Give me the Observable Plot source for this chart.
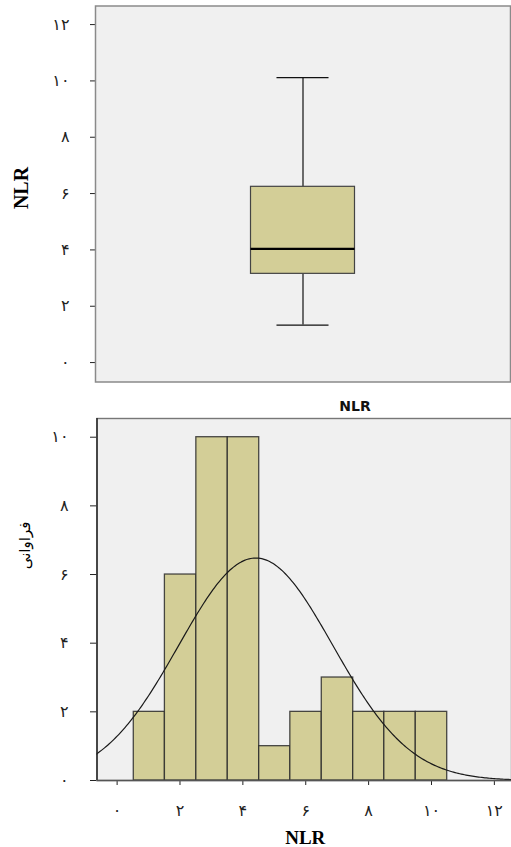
<!DOCTYPE html>
<html><head><meta charset="utf-8">
<script src="https://cdn.jsdelivr.net/npm/d3@7"></script>
<script src="https://cdn.jsdelivr.net/npm/@observablehq/plot@0.6"></script>
<style>
body{margin:0;background:#fff;width:511px;height:847px;position:relative;overflow:hidden;}
#top{position:absolute;left:0;top:0;}
#title{position:absolute;left:0;top:398px;width:710px;text-align:center;font:bold 14px "DejaVu Sans",sans-serif;color:#111;}
#bottom{position:absolute;left:0;top:390px;}
svg{display:block;}
</style></head><body>
<div id="top"></div><div id="title"></div><div id="bottom"></div>
<script>
// ---- data ----
const boxVariable = "NLR";
const boxMin = 1.33, boxQ1 = 3.15, boxMedian = 4.04, boxQ3 = 6.24, boxMax = 10.12;
const yTicksTop = [0, 2, 4, 6, 8, 10, 12];
const yTickLabelsTop = ["۰", "۲", "۴", "۶", "۸", "۱۰", "۱۲"];

const histTitle = "NLR";
const histXLabel = "NLR";
const histYLabel = "فراوانی";
const binEdges = [0.53, 1.52, 2.52, 3.52, 4.52, 5.51, 6.51, 7.51, 8.50, 9.50, 10.50];
const binCounts = [2, 6, 10, 10, 1, 2, 3, 2, 2, 2];
const yTicksHist = [0, 2, 4, 6, 8, 10];
const yTickLabelsHist = ["۰", "۲", "۴", "۶", "۸", "۱۰"];
const xTicksHist = [0, 2, 4, 6, 8, 10, 12];
const xTickLabelsHist = ["۰", "۲", "۴", "۶", "۸", "۱۰", "۱۲"];
const normalMean = 4.41, normalSD = 2.455, sampleN = 40;

// ---- styles ----
const fill = "#d3ce97";
const tickFont = "'DejaVu Sans',serif";

// ---- top: box plot ----
const boxRow = [{min: boxMin, q1: boxQ1, median: boxMedian, q3: boxQ3, max: boxMax}];
const topPlot = Plot.plot({
  width: 511, height: 390,
  marginTop: 5.5, marginBottom: 8.5, marginLeft: 95, marginRight: 1,
  style: {fontFamily: tickFont, fontSize: "16px", color: "#222", background: "transparent"},
  x: {domain: [0, 1], axis: null},
  y: {domain: [-0.69, 12.66], ticks: yTicksTop, tickFormat: d => yTickLabelsTop[yTicksTop.indexOf(d)],
      tickSize: 5, tickPadding: 21, label: null},
  marks: [
    Plot.frame({fill: "#f0f0f0", stroke: "#8a8a8a", strokeWidth: 1.5}),
    Plot.ruleX(boxRow, {x: () => 0.5, y1: "max", y2: "q3", stroke: "#111", strokeWidth: 1.2}),
    Plot.ruleX(boxRow, {x: () => 0.5, y1: "q1", y2: "min", stroke: "#111", strokeWidth: 1.2}),
    Plot.ruleY(boxRow, {y: "max", x1: () => 0.4373, x2: () => 0.5627, stroke: "#111", strokeWidth: 1.2}),
    Plot.ruleY(boxRow, {y: "min", x1: () => 0.4373, x2: () => 0.5627, stroke: "#111", strokeWidth: 1.2}),
    Plot.rect(boxRow, {x1: () => 0.3747, x2: () => 0.6253, y1: "q1", y2: "q3", fill, stroke: "#444", strokeWidth: 1.2}),
    Plot.ruleY(boxRow, {y: "median", x1: () => 0.3747, x2: () => 0.6253, stroke: "#000", strokeWidth: 2.2}),
    Plot.text([boxVariable], {frameAnchor: "left", dx: -74, dy: -6, rotate: -90, text: d => d,
      fontFamily: "'Liberation Serif',serif", fontWeight: "bold", fontSize: 20, fill: "#000",
      textAnchor: "middle", lineAnchor: "middle"})
  ]
});
document.getElementById("top").append(topPlot);

// ---- bottom: histogram with normal curve ----
document.getElementById("title").textContent = histTitle;
const bins = binCounts.map((c, i) => ({x1: binEdges[i], x2: binEdges[i + 1], count: c}));
const binWidth = (binEdges[binEdges.length - 1] - binEdges[0]) / binCounts.length;
const peak = sampleN * binWidth / (normalSD * Math.sqrt(2 * Math.PI));
const curve = d3.range(-1, 13.6, 0.05).map(x => ({x, y: peak * Math.exp(-0.5 * ((x - normalMean) / normalSD) ** 2)}));

const bottomPlot = Plot.plot({
  width: 511, height: 457,
  marginTop: 28, marginBottom: 67, marginLeft: 96.5, marginRight: 0,
  style: {fontFamily: tickFont, fontSize: "16px", color: "#222", background: "transparent", overflow: "visible"},
  x: {domain: [-0.64, 12.545], ticks: xTicksHist, tickFormat: d => xTickLabelsHist[xTicksHist.indexOf(d)],
      tickSize: 5, tickPadding: 19, label: null},
  y: {domain: [0, 10.545], ticks: yTicksHist, tickFormat: d => yTickLabelsHist[yTicksHist.indexOf(d)],
      tickSize: 6.5, tickPadding: 22, label: null},
  marks: [
    Plot.frame({fill: "#f0f0f0", stroke: "#777", strokeWidth: 1.4}),
    Plot.rectY(bins, {x1: "x1", x2: "x2", y1: 0, y2: "count", fill, stroke: "#2a2a2a", strokeWidth: 1.3, strokeOpacity: 0.85}),
    Plot.line(curve, {x: "x", y: "y", stroke: "#1a1a1a", strokeWidth: 1.2, clip: true}),
    Plot.ruleX([-0.64], {y1: 0, y2: 10.545, stroke: "#222", strokeWidth: 1.4}),
    Plot.ruleY([0], {stroke: "#555", strokeWidth: 1.4}),
    Plot.text([histYLabel], {frameAnchor: "left", dx: -72, dy: -54, rotate: -90, text: d => d,
      fontFamily: "'DejaVu Sans',sans-serif", fontSize: 15, fill: "#000",
      textAnchor: "middle", lineAnchor: "middle"}),
    Plot.text([histXLabel], {frameAnchor: "bottom", dx: 1, dy: 57, text: d => d,
      fontFamily: "'Liberation Serif',serif", fontWeight: "bold", fontSize: 19, fill: "#000",
      textAnchor: "middle", lineAnchor: "middle"})
  ]
});
document.getElementById("bottom").append(bottomPlot);
</script>
</body></html>
